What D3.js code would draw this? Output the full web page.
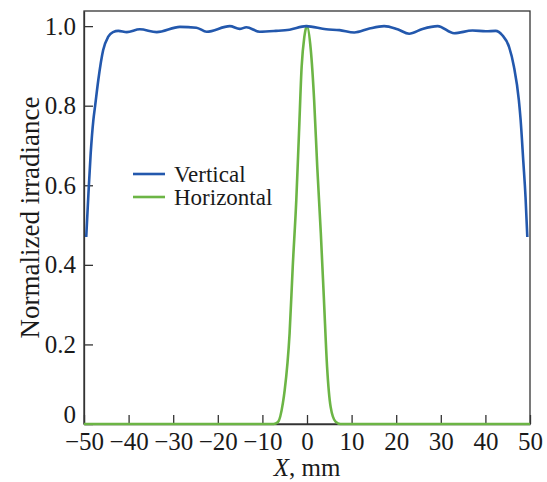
<!DOCTYPE html>
<html>
<head>
<meta charset="utf-8">
<script src="https://cdn.jsdelivr.net/npm/d3@7"></script>
<style>
  html, body { margin: 0; padding: 0; background: #fff; }
  svg { display: block; font-family: "Liberation Serif", "DejaVu Serif", serif; }
</style>
</head>
<body>
<div id="chart"></div>
<script>
// x in mm, normalized irradiance
const verticalX = [-49.5, -49, -48.5, -47.9, -47.5, -46.8, -45.7, -44.6, -43.5, -42.3, -40.4, -37.5, -33.7,
  -28.5, -24.8, -22.5, -17.3, -15.1, -13.6, -10.6, -7, -3.9, -0.2, 4.3, 7.3, 10.6, 14, 17.3, 20.3, 22.9,
  25.9, 29.3, 33, 37.1, 40.1, 42.3, 43.8, 45.3, 46.4, 47.5, 47.9, 48.5, 49, 49.4];
const verticalY = [0.47, 0.58, 0.68, 0.764, 0.80, 0.864, 0.94, 0.973, 0.985, 0.988, 0.985, 0.992, 0.985,
  0.998, 0.996, 0.986, 1.0, 0.993, 0.997, 0.986, 0.988, 0.991, 1.0, 0.992, 0.99, 0.984, 0.994, 1.0, 0.992, 0.981,
  0.993, 1.0, 0.982, 0.989, 0.987, 0.988, 0.977, 0.948, 0.898, 0.814, 0.764, 0.66, 0.57, 0.47];

const horizontalX = [-50, -7.5, -6.5, -5.4, -5.0, -3.9, -3.2, -2.4, -1.8, -1.2, -0.6, 0, 0.85, 1.6, 2.3, 3.1,
  3.8, 4.5, 5.3, 6.4, 7.5, 50];
const horizontalY = [0, 0, 0.005, 0.053, 0.085, 0.228, 0.395, 0.563, 0.73, 0.898, 0.973, 1.0, 0.94, 0.814, 0.646, 0.479,
  0.312, 0.144, 0.043, 0.006, 0, 0];

const xTicks = [-50, -40, -30, -20, -10, 0, 10, 20, 30, 40, 50];
const yTicks = [0, 0.2, 0.4, 0.6, 0.8, 1.0];
const seriesNames = ["Vertical", "Horizontal"];
const seriesColors = ["#2358ad", "#6cb545"];

const W = 547, H = 482;
const m = { left: 84, right: 17, top: 11, bottom: 58 };

const svg = d3.select("#chart").append("svg")
  .attr("width", W).attr("height", H);

const x = d3.scaleLinear().domain([-50, 50]).range([m.left, W - m.right]);
const y = d3.scaleLinear().domain([0, 1.038]).range([H - m.bottom, m.top]);

const fmtY = d => d === 0 ? "0" : d3.format(".1f")(d);
const fmtX = d => d < 0 ? "\u2212" + Math.abs(d) : String(d);

// frame
svg.append("rect")
  .attr("x", m.left).attr("y", m.top)
  .attr("width", W - m.right - m.left).attr("height", H - m.bottom - m.top)
  .attr("fill", "none").attr("stroke", "#333").attr("stroke-width", 1.3);

// axes with inward ticks
const xAxis = svg.append("g")
  .attr("transform", `translate(0,${H - m.bottom})`)
  .call(d3.axisBottom(x).tickValues(xTicks).tickFormat(fmtX).tickSizeInner(-9).tickSizeOuter(0).tickPadding(8));
const yAxis = svg.append("g")
  .attr("transform", `translate(${m.left},0)`)
  .call(d3.axisLeft(y).tickValues(yTicks).tickFormat(fmtY).tickSizeInner(-9).tickSizeOuter(0).tickPadding(8));

[xAxis, yAxis].forEach(g => {
  g.select(".domain").attr("stroke", "#333").attr("stroke-width", 1.3);
  g.selectAll(".tick line").attr("stroke", "#333").attr("stroke-width", 1.3);
  g.selectAll(".tick text").attr("fill", "#1a1a1a")
    .style("font-family", "'Liberation Serif', serif").style("font-size", "25px");
});
// the "0" label sits just above the corner
yAxis.selectAll(".tick text").filter(d => d === 0).attr("dy", "-0.06em");

// axis titles
const xt = svg.append("text")
  .attr("x", (m.left + W - m.right) / 2).attr("y", 476)
  .attr("text-anchor", "middle").attr("fill", "#1a1a1a").style("font-size", "25px");
xt.append("tspan").attr("font-style", "italic").text("X");
xt.append("tspan").text(", mm");

svg.append("text")
  .attr("transform", `translate(39,${(m.top + H - m.bottom) / 2}) rotate(-90)`)
  .attr("text-anchor", "middle").attr("fill", "#1a1a1a").style("font-size", "27px")
  .text("Normalized irradiance");

// lines
const line = d3.line().x(d => x(d[0])).y(d => y(d[1])).curve(d3.curveMonotoneX);
const vData = verticalX.map((v, i) => [v, verticalY[i]]);
const hData = horizontalX.map((v, i) => [v, horizontalY[i]]);

svg.append("path").datum(hData)
  .attr("fill", "none").attr("stroke", seriesColors[1]).attr("stroke-width", 2.6)
  .attr("d", line);
svg.append("path").datum(vData)
  .attr("fill", "none").attr("stroke", seriesColors[0]).attr("stroke-width", 2.6)
  .attr("d", line);

// legend
seriesNames.forEach((name, i) => {
  const ly = 174 + i * 23;
  svg.append("line")
    .attr("x1", 133).attr("x2", 165).attr("y1", ly).attr("y2", ly)
    .attr("stroke", seriesColors[i]).attr("stroke-width", 2.6);
  svg.append("text")
    .attr("x", 174).attr("y", ly + 8)
    .attr("fill", "#1a1a1a").style("font-size", "23px")
    .text(name);
});
</script>
</body>
</html>
